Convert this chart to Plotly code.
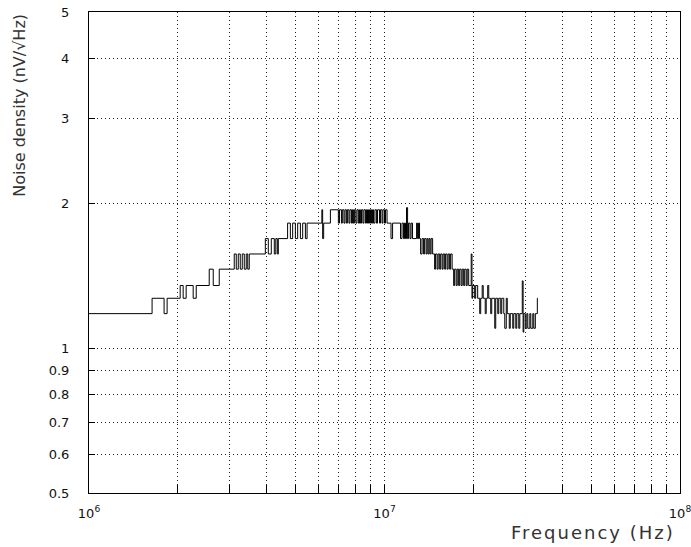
import math
import plotly.graph_objects as go

# Frequency breakpoints (MHz) and noise density (nV/sqrt(Hz))
freq_mhz = [
    1.000, 1.635, 1.795, 1.838, 2.035, 2.083, 2.132, 2.252, 2.306, 2.552,
    2.633, 2.759, 3.101, 3.150, 3.200, 3.250, 3.301, 3.353, 3.405, 3.445,
    3.486, 3.951, 4.044, 4.139, 4.237, 4.287, 4.338, 4.372, 4.700, 4.802,
    4.889, 4.993, 5.083, 5.192, 5.286, 5.399, 5.470, 6.138, 6.176, 6.225,
    6.560, 6.98, 7.04, 7.15, 7.20, 7.29, 7.35, 7.43, 7.49, 7.58,
    7.64, 7.73, 7.79, 7.85, 7.91, 8.00, 8.07, 8.16, 8.23, 8.29,
    8.36, 8.45, 8.52, 8.62, 8.69, 8.76, 8.83, 8.90, 8.97, 9.04,
    9.11, 9.18, 9.28, 9.39, 9.47, 9.62, 9.69, 9.81, 9.88, 10.00,
    10.08, 10.20, 10.52, 10.65, 11.33, 11.46, 11.60, 11.69, 11.78, 11.87,
    11.97, 12.06, 12.20, 12.30, 12.44, 12.84, 12.94, 13.04, 13.14, 13.25,
    13.40, 13.56, 13.67, 13.83, 13.94, 14.05, 14.16, 14.27, 14.38, 14.55,
    14.78, 14.89, 15.07, 15.19, 15.37, 15.49, 15.67, 15.79, 15.98, 16.10,
    16.29, 16.42, 16.61, 16.74, 16.94, 17.14, 17.27, 17.48, 17.62, 17.82,
    17.96, 18.17, 18.32, 18.53, 18.68, 18.90, 19.05, 19.27, 19.65, 19.77,
    19.88, 20.19, 20.35, 20.67, 21.00, 21.16, 21.41, 21.58, 21.92, 22.09,
    22.35, 22.53, 22.88, 23.06, 23.61, 23.79, 24.17, 24.36, 24.74, 24.94,
    25.33, 25.53, 25.83, 26.03, 26.44, 26.64, 27.17, 27.38, 27.82, 28.03,
    28.47, 28.70, 29.26, 29.45, 29.61, 29.96, 30.31, 30.55, 31.03, 31.27,
    31.76, 32.01, 32.39, 32.90, 33.03,
]
noise = [
    1.18, 1.27, 1.18, 1.27, 1.35, 1.27, 1.35, 1.27, 1.35, 1.46,
    1.35, 1.46, 1.57, 1.46, 1.57, 1.46, 1.57, 1.46, 1.57, 1.46,
    1.57, 1.69, 1.57, 1.69, 1.57, 1.69, 1.57, 1.69, 1.82, 1.69,
    1.82, 1.69, 1.82, 1.69, 1.82, 1.69, 1.82, 1.94, 1.69, 1.82,
    1.94, 1.82, 1.94, 1.82, 1.94, 1.82, 1.94, 1.82, 1.94, 1.82,
    1.94, 1.82, 1.94, 1.82, 1.94, 1.82, 1.94, 1.82, 1.94, 1.82,
    1.94, 1.82, 1.94, 1.82, 1.94, 1.82, 1.94, 1.82, 1.94, 1.82,
    1.94, 1.82, 1.94, 1.82, 1.94, 1.82, 1.94, 1.82, 1.94, 1.82,
    1.94, 1.82, 1.69, 1.82, 1.69, 1.82, 1.69, 1.82, 1.69, 1.96,
    1.69, 1.82, 1.69, 1.82, 1.69, 1.82, 1.69, 1.82, 1.69, 1.57,
    1.69, 1.57, 1.69, 1.57, 1.69, 1.57, 1.69, 1.57, 1.69, 1.57,
    1.46, 1.57, 1.46, 1.57, 1.46, 1.57, 1.46, 1.57, 1.46, 1.57,
    1.46, 1.57, 1.46, 1.57, 1.46, 1.35, 1.46, 1.35, 1.46, 1.35,
    1.46, 1.35, 1.46, 1.35, 1.46, 1.35, 1.46, 1.35, 1.57, 1.27,
    1.35, 1.27, 1.35, 1.27, 1.18, 1.27, 1.35, 1.27, 1.18, 1.27,
    1.35, 1.27, 1.18, 1.27, 1.10, 1.27, 1.18, 1.27, 1.18, 1.27,
    1.18, 1.10, 1.27, 1.18, 1.10, 1.18, 1.10, 1.18, 1.10, 1.18,
    1.10, 1.18, 1.38, 1.08, 1.18, 1.10, 1.18, 1.10, 1.18, 1.10,
    1.18, 1.10, 1.18, 1.27, 1.27,
]

x_tickvals = [m * d for d in (1e6, 1e7) for m in range(1, 10)] + [1e8]
x_ticktext = ["10<sup>6</sup>"] + [""] * 8 + ["10<sup>7</sup>"] + [""] * 8 + ["10<sup>8</sup>"]
y_tickvals = [0.5, 0.6, 0.7, 0.8, 0.9, 1, 2, 3, 4, 5]
y_ticktext = ["0.5", "0.6", "0.7", "0.8", "0.9", "1", "2", "3", "4", "5"]

x_title = "Frequency (Hz)"
y_title = "Noise density (nV/\u221aHz)"

freq_hz = [f * 1e6 for f in freq_mhz]

fig = go.Figure(
    go.Scatter(
        x=freq_hz, y=noise, mode="lines",
        line=dict(color="black", width=1, shape="hv"),
        hoverinfo="skip",
    )
)

fig.update_layout(
    width=691, height=547,
    margin=dict(l=89, r=11, t=12, b=54, autoexpand=False),
    paper_bgcolor="white", plot_bgcolor="white",
    showlegend=False,
    font=dict(family="DejaVu Sans", color="#111", size=13),
)

grid_common = dict(
    showgrid=True, gridcolor="#222", gridwidth=1, griddash="1px,3px",
    showline=True, linecolor="black", linewidth=1, mirror=True,
    ticks="inside", tickcolor="black", tickwidth=1,
    zeroline=False, ticklabeloverflow="allow",
)
fig.update_xaxes(
    type="log", range=[6, 8],
    tickmode="array", tickvals=x_tickvals, ticktext=x_ticktext,
    ticklen=8, ticklabelstandoff=8,
    tickfont=dict(size=13),
    **grid_common,
)
fig.update_yaxes(
    type="log", range=[math.log10(0.5), math.log10(5)],
    tickmode="array", tickvals=y_tickvals, ticktext=y_ticktext,
    ticklen=6, ticklabelstandoff=16,
    tickfont=dict(size=13),
    **grid_common,
)

fig.add_annotation(
    text='<span style="letter-spacing:2px">' + x_title + "</span>",
    xref="paper", yref="paper", x=0.995, y=-0.083,
    xanchor="right", yanchor="middle", showarrow=False,
    font=dict(size=18, color="#333"),
)
fig.add_annotation(
    text=y_title,
    textangle=-90,
    xref="paper", yref="paper", x=-0.118, y=1.0,
    xanchor="center", yanchor="top", showarrow=False,
    font=dict(size=16, color="#333"),
)

fig.write_html("out.html")
